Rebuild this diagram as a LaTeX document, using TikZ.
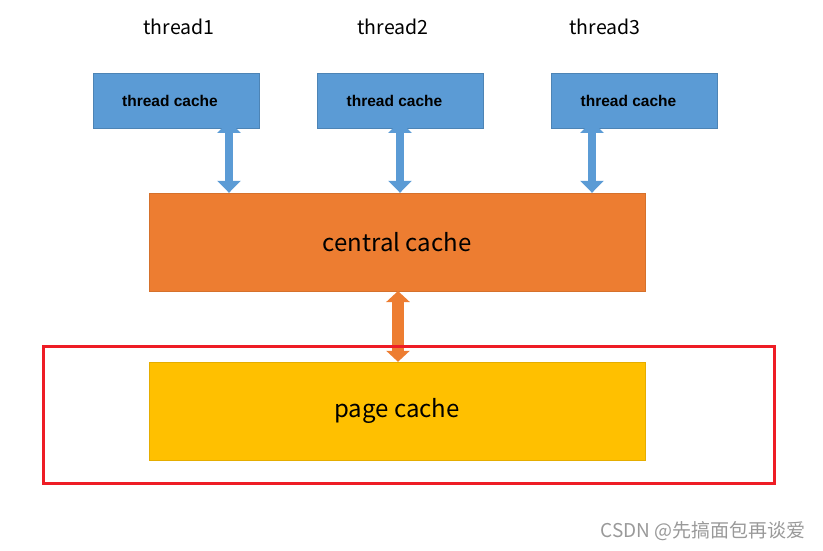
\documentclass[tikz,border=0pt]{standalone}
\usepackage{fontspec}
\setmainfont{Liberation Sans}
\newfontfamily\yahei{Noto Sans CJK SC}
\usetikzlibrary{positioning, arrows.meta}

\definecolor{threadblue}{HTML}{5B9BD5}
\definecolor{centralorange}{HTML}{ED7D31}
\definecolor{pageyellow}{HTML}{FFC000}
\definecolor{framered}{HTML}{EE1D25}

\begin{document}
\begin{tikzpicture}[x=1pt, y=-1pt,
    tcache/.style={rectangle, fill=threadblue, draw=threadblue!85!black, line width=0.6pt,
        minimum width=166pt, minimum height=55pt, inner sep=0pt,
        font=\bfseries\fontsize{15.5}{18}\selectfont},
    tlabel/.style={inner sep=0pt, font=\yahei\fontsize{19.5}{22}\selectfont},
    bigbox/.style={rectangle, minimum width=496pt, minimum height=98pt, inner sep=0pt,
        font=\yahei\fontsize{24}{28}\selectfont},
    blink/.style={threadblue, line width=8pt,
        {Triangle[width=23pt,length=12pt]}-{Triangle[width=23pt,length=12pt]}},
    olink/.style={centralorange, line width=12pt,
        {Triangle[width=23pt,length=11pt]}-{Triangle[width=23pt,length=11pt]}}
]
    \useasboundingbox (0,0) rectangle (823,551);

    % thread caches
    \node[tlabel] (t1) at (179,27) {thread1};
    \node[tlabel] (t2) at (393,27) {thread2};
    \node[tlabel] (t3) at (605,27) {thread3};
    \node[tcache] (tc1) at (176,100.5) {thread cache\hspace*{12pt}};
    \node[tcache] (tc2) at (400.5,100.5) {thread cache\hspace*{12pt}};
    \node[tcache] (tc3) at (634.5,100.5) {thread cache\hspace*{12pt}};

    % central and page cache
    \node[bigbox, fill=centralorange, draw=centralorange!90!black] (central) at (397,242) {central cache};
    \node[bigbox, fill=pageyellow, draw=pageyellow!90!black] (page) at (397,411) {page cache};

    % arrow ends
    \coordinate (a1) at (229,121);
    \coordinate (a2) at (400,121);
    \coordinate (a3) at (592,121);
    \draw[blink] (a1) -- (a1 |- central.north);
    \draw[blink] (a2) -- (a2 |- central.north);
    \draw[blink] (a3) -- (a3 |- central.north);
    \coordinate (b1) at (398,291);
    \draw[olink] (b1) -- (b1 |- page.north);

    % red frame round page cache
    \draw[framered, line width=3pt] (43,346) rectangle (774,483);

    \node[inner sep=0pt, text=black!40, font=\yahei\fontsize{19}{22}\selectfont] (mark) at (703,531) {CSDN @先搞面包再谈爱};
\end{tikzpicture}
\end{document}
